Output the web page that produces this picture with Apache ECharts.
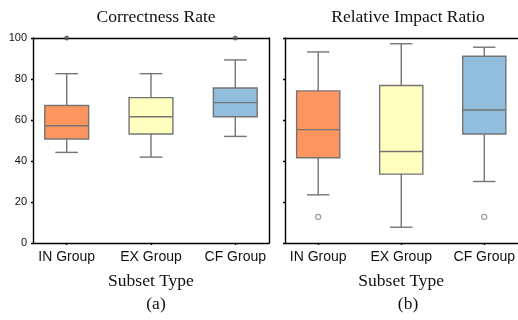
<!DOCTYPE html>
<html>
<head>
<meta charset="utf-8">
<script src="https://cdn.jsdelivr.net/npm/echarts@6/dist/echarts.min.js"></script>
<style>
  html, body { margin: 0; padding: 0; background: #fff; }
  #chart { width: 518px; height: 320px; }
</style>
</head>
<body>
<div id="chart"></div>
<script>
// Group names along the x axis
const categories = ['IN Group', 'EX Group', 'CF Group'];

// Box statistics per group: [min, Q1, median, Q3, max]
const correctnessStats = [
  [44.2, 50.7, 57.2, 67.1, 82.6],
  [41.9, 53.2, 61.6, 70.9, 82.6],
  [52.0, 61.6, 68.5, 75.6, 89.3]
];
// Outliers: [group index, value]
const correctnessOutliers = [[0, 100], [2, 100]];

const impactStats = [
  [23.5, 41.6, 55.3, 74.2, 93.2],
  [7.7, 33.6, 44.6, 76.8, 97.2],
  [30.0, 53.2, 64.9, 91.1, 95.5]
];
const impactOutliers = [[0, 12.7], [2, 12.7]];

// Value axis ticks
const yTickValues = [0, 20, 40, 60, 80, 100];

const boxColors = ['#fd9560', '#ffffc0', '#90bedc'];
const strokeColor = '#747474';
const SANS = "'Liberation Sans', Arial, sans-serif";
const SERIF = "'Liberation Serif', 'Times New Roman', serif";

const BOX_HALF = 0.26;
const CAP_HALF = 0.135;

function renderBox(params, api) {
  const x = api.value(0);
  const mn = api.value(1), q1 = api.value(2), md = api.value(3), q3 = api.value(4), mx = api.value(5);
  const c = (xv, yv) => api.coord([xv, yv]);
  const lineStyle = { stroke: strokeColor, lineWidth: 1.4 };
  const pTop = c(x - BOX_HALF, q3);
  const pBot = c(x + BOX_HALF, q1);
  const line = (a, b) => ({ type: 'line', shape: { x1: a[0], y1: a[1], x2: b[0], y2: b[1] }, style: lineStyle });
  return {
    type: 'group',
    children: [
      line(c(x, mn), c(x, q1)),
      line(c(x, q3), c(x, mx)),
      line(c(x - CAP_HALF, mn), c(x + CAP_HALF, mn)),
      line(c(x - CAP_HALF, mx), c(x + CAP_HALF, mx)),
      {
        type: 'rect',
        shape: { x: pTop[0], y: pTop[1], width: pBot[0] - pTop[0], height: pBot[1] - pTop[1] },
        style: { fill: boxColors[params.dataIndex], stroke: strokeColor, lineWidth: 1.4 }
      },
      line(c(x - BOX_HALF, md), c(x + BOX_HALF, md))
    ]
  };
}

const toBoxData = stats => stats.map((s, i) => [i].concat(s));

const frameLine = { show: true, onZero: false, lineStyle: { color: '#000', width: 1.4 } };

function bottomXAxis(gridIndex) {
  return {
    type: 'value', gridIndex, position: 'bottom', min: -0.4, max: 2.4,
    splitLine: { show: false },
    axisLine: frameLine,
    axisTick: { show: true, customValues: [0, 1, 2], length: 2, lineStyle: { color: '#000', width: 1.4 } },
    axisLabel: {
      customValues: [0, 1, 2], margin: 7,
      formatter: v => categories[Math.round(v)] || '',
      fontFamily: SANS, fontSize: 14, color: '#111'
    },
    name: 'Subset Type', nameLocation: 'middle', nameGap: 29,
    nameTextStyle: { fontFamily: SERIF, fontSize: 17.5, color: '#111' }
  };
}
function topXAxis(gridIndex) {
  return {
    type: 'value', gridIndex, position: 'top', min: -0.4, max: 2.4,
    splitLine: { show: false }, axisTick: { show: false }, axisLabel: { show: false },
    axisLine: frameLine
  };
}
function leftYAxis(gridIndex, showLabels) {
  return {
    type: 'value', gridIndex, position: 'left', min: 0, max: 100, interval: 20,
    splitLine: { show: false },
    axisLine: frameLine,
    axisTick: { show: true, length: 2, lineStyle: { color: '#000', width: 1.4 } },
    axisLabel: {
      show: showLabels, margin: 6, fontFamily: SANS, fontSize: 11, color: '#111',
      customValues: yTickValues
    }
  };
}
function rightYAxis(gridIndex) {
  return {
    type: 'value', gridIndex, position: 'right', min: 0, max: 100,
    splitLine: { show: false }, axisTick: { show: false }, axisLabel: { show: false },
    axisLine: frameLine
  };
}

const titleStyle = { fontFamily: SERIF, fontSize: 17.5, fontWeight: 'normal', color: '#111' };

const chart = echarts.init(document.getElementById('chart'), null, { renderer: 'canvas' });
chart.setOption({
  backgroundColor: '#fff',
  animation: false,
  title: [
    { text: 'Correctness Rate', left: 151, top: 3, textAlign: 'center', textStyle: titleStyle },
    { text: 'Relative Impact Ratio', left: 403, top: 3, textAlign: 'center', textStyle: titleStyle },
    { text: '(a)', left: 151, top: 290, textAlign: 'center', textStyle: titleStyle },
    { text: '(b)', left: 403, top: 290, textAlign: 'center', textStyle: titleStyle }
  ],
  grid: [
    { left: 33, top: 38, width: 236, height: 205 },
    { left: 285, top: 38, width: 237, height: 205 }
  ],
  xAxis: [bottomXAxis(0), topXAxis(0), bottomXAxis(1), topXAxis(1)],
  yAxis: [leftYAxis(0, true), rightYAxis(0), leftYAxis(1, false)],
  series: [
    { type: 'custom', xAxisIndex: 0, yAxisIndex: 0, renderItem: renderBox,
      data: toBoxData(correctnessStats), encode: { x: 0, y: [1, 2, 3, 4, 5] } },
    { type: 'scatter', xAxisIndex: 0, yAxisIndex: 0, data: correctnessOutliers, clip: false, z: 10,
      symbol: 'circle', symbolSize: 5, itemStyle: { color: '#555' } },
    { type: 'custom', xAxisIndex: 2, yAxisIndex: 2, renderItem: renderBox,
      data: toBoxData(impactStats), encode: { x: 0, y: [1, 2, 3, 4, 5] } },
    { type: 'scatter', xAxisIndex: 2, yAxisIndex: 2, data: impactOutliers, clip: false, z: 10,
      symbol: 'circle', symbolSize: 5,
      itemStyle: { color: '#fff', borderColor: '#8a8a8a', borderWidth: 1.3 } }
  ]
});
</script>
</body>
</html>
